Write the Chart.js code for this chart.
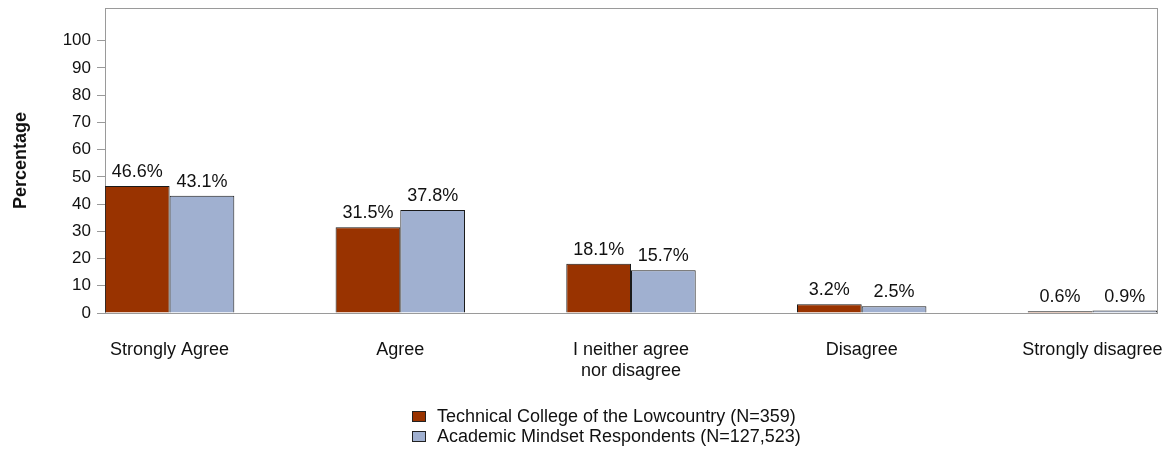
<!doctype html>
<html>
<head>
<meta charset="utf-8">
<title>Percentage by response</title>
<style>
  body { margin: 0; background: #fff; }
  #wrap { position: relative; width: 1168px; height: 450px; }
  #legend { position: absolute; left: 412px; top: 406px; font: 18px "Liberation Sans", Arial, sans-serif; color: #111; }
  #legend div { height: 20px; line-height: 20px; white-space: nowrap; }
  #legend span.box { display: inline-block; width: 12px; height: 9px; border: 1px solid #222; margin-right: 11px; vertical-align: 0px; }
</style>
</head>
<body>
<div id="wrap">
  <canvas id="chart-area" width="1168" height="450"></canvas>
  <div id="legend"></div>
</div>
<script src="https://cdn.jsdelivr.net/npm/chart.js@4"></script>
<script>
var categories = ['Strongly Agree', 'Agree', ['I neither agree', 'nor disagree'], 'Disagree', 'Strongly disagree'];
var seriesNames = ['Technical College of the Lowcountry (N=359)', 'Academic Mindset Respondents (N=127,523)'];
var collegeValues = [46.6, 31.5, 18.1, 3.2, 0.6];
var mindsetValues = [43.1, 37.8, 15.7, 2.5, 0.9];
var yTicks = [0, 10, 20, 30, 40, 50, 60, 70, 80, 90, 100];

var FONT = '"Liberation Sans", Arial, sans-serif';

function points(values) {
    return values.map(function(v, i) { return { x: i, y: v }; });
}

// frame around the plot area
var framePlugin = {
    id: 'frame',
    beforeDatasetsDraw: function(chart) {
        var a = chart.chartArea, ctx = chart.ctx;
        ctx.save();
        ctx.strokeStyle = '#9a9a9a';
        ctx.lineWidth = 1;
        ctx.strokeRect(Math.round(a.left) + 0.5, Math.round(a.top) + 0.5,
            Math.round(a.right - a.left), Math.round(a.bottom - a.top));
        ctx.restore();
    }
};

// value labels above bars
var valueLabels = {
    id: 'valueLabels',
    afterDatasetsDraw: function(chart) {
        var ctx = chart.ctx;
        ctx.save();
        ctx.font = '18px ' + FONT;
        ctx.fillStyle = '#111';
        ctx.textAlign = 'center';
        ctx.textBaseline = 'bottom';
        chart.data.datasets.forEach(function(ds, di) {
            chart.getDatasetMeta(di).data.forEach(function(bar, i) {
                ctx.fillText(ds.data[i].y.toFixed(1) + '%', bar.x, bar.y - 5);
            });
        });
        ctx.restore();
    }
};

var config = {
    type: 'bar',
    data: {
        datasets: [{
            label: seriesNames[0],
            data: points(collegeValues),
            backgroundColor: '#993300',
            borderColor: '#1a1a1a',
            borderWidth: 1
        }, {
            label: seriesNames[1],
            data: points(mindsetValues),
            backgroundColor: '#a0b0d0',
            borderColor: '#1a1a1a',
            borderWidth: 1
        }]
    },
    options: {
        responsive: false,
        animation: false,
        layout: { padding: { top: 8, right: 11, left: 0, bottom: 0 } },
        datasets: { bar: { categoryPercentage: 0.561, barPercentage: 1 } },
        plugins: {
            legend: { display: false },
            tooltip: { enabled: false }
        },
        scales: {
            x: {
                type: 'linear',
                offset: false,
                min: -0.28,
                max: 4.28,
                grid: { display: false },
                border: { display: true, color: '#9a9a9a' },
                afterBuildTicks: function(axis) {
                    axis.ticks = categories.map(function(c, i) { return { value: i }; });
                },
                afterFit: function(scale) {
                    scale.height = 137;
                    scale.paddingLeft = 0;
                    scale.paddingRight = 0;
                },
                ticks: {
                    autoSkip: false,
                    maxRotation: 0,
                    padding: 18,
                    color: '#111',
                    font: { family: FONT, size: 18, lineHeight: 1.2 },
                    callback: function(value) { return categories[value]; }
                }
            },
            y: {
                min: 0,
                max: 112,
                grid: { drawOnChartArea: false, drawTicks: true, tickLength: 8, color: '#9a9a9a' },
                border: { display: true, color: '#9a9a9a' },
                afterBuildTicks: function(axis) {
                    axis.ticks = yTicks.map(function(v) { return { value: v }; });
                },
                afterFit: function(scale) {
                    scale.width = 105;
                    scale.paddingTop = 0;
                    scale.paddingBottom = 0;
                },
                title: {
                    display: true,
                    text: 'Percentage',
                    color: '#111',
                    padding: { top: 10, bottom: 0 },
                    font: { family: FONT, size: 18, weight: 'bold' }
                },
                ticks: {
                    padding: 6,
                    color: '#111',
                    font: { family: FONT, size: 17 }
                }
            }
        }
    },
    plugins: [framePlugin, valueLabels]
};

window.onload = function() {
    var ctx = document.getElementById('chart-area').getContext('2d');
    window.myBar = new Chart(ctx, config);
    var legend = document.getElementById('legend');
    config.data.datasets.forEach(function(ds) {
        var row = document.createElement('div');
        var box = document.createElement('span');
        box.className = 'box';
        box.style.background = ds.backgroundColor;
        row.appendChild(box);
        row.appendChild(document.createTextNode(ds.label));
        legend.appendChild(row);
    });
};
</script>
</body>
</html>
